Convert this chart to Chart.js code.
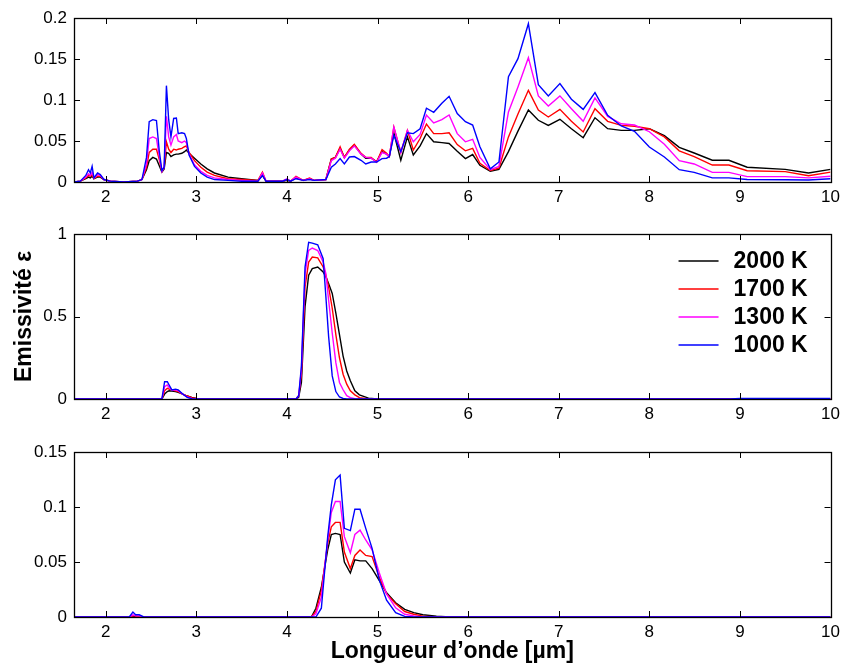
<!DOCTYPE html>
<html><head><meta charset="utf-8">
<script src="https://cdn.jsdelivr.net/npm/chart.js@4.4.1/dist/chart.umd.min.js"></script>
<style>
html,body{margin:0;padding:0;background:#fff;}
#wrap{position:relative;width:845px;height:668px;background:#fff;}
canvas{position:absolute;left:0;}
</style></head><body>
<div id="wrap">
<canvas id="p1" width="845" height="210" style="top:0px"></canvas>
<canvas id="p2" width="845" height="217" style="top:210px"></canvas>
<canvas id="p3" width="845" height="241" style="top:427px"></canvas>
</div>
<script>
// ---------- DATA ----------
const seriesLabels = ['2000 K', '1700 K', '1300 K', '1000 K'];
const seriesColors = ['#000000', '#ff0000', '#ff00ff', '#0000ff'];
const xTicks = [2, 3, 4, 5, 6, 7, 8, 9, 10];
const yTicksTop = [0, 0.05, 0.1, 0.15, 0.2];
const yTicksMid = [0, 0.5, 1];
const yTicksBot = [0, 0.05, 0.1, 0.15];

// Top panel
const topX = [1.65,1.72,1.78,1.81,1.83,1.85,1.87,1.91,1.94,1.98,2.05,2.2,2.35,2.4,2.45,2.48,2.52,2.56,2.59,2.62,2.645,2.67,2.695,2.72,2.75,2.78,2.80,2.84,2.87,2.89,2.92,2.98,3.05,3.12,3.2,3.35,3.5,3.68,3.73,3.77,3.95,4.0,4.04,4.1,4.18,4.25,4.3,4.43,4.49,4.535,4.587,4.634,4.69,4.744,4.818,4.87,4.93,4.99,5.05,5.1,5.13,5.18,5.257,5.33,5.395,5.47,5.54,5.62,5.71,5.79,5.88,5.97,6.05,6.13,6.245,6.34,6.445,6.55,6.665,6.775,6.885,7.013,7.14,7.27,7.40,7.54,7.69,7.836,8.0,8.166,8.33,8.495,8.695,8.878,9.08,9.5,9.757,10.0];
const top2000 = [0,0.001,0.004,0.006,0.005,0.007,0.004,0.006,0.006,0.003,0.001,0,0.001,0.003,0.015,0.026,0.030,0.028,0.020,0.012,0.016,0.036,0.035,0.031,0.033,0.034,0.034,0.035,0.037,0.039,0.035,0.029,0.022,0.016,0.011,0.006,0.004,0.002,0.008,0.001,0.001,0.002,0.001,0.005,0.002,0.004,0.002,0.003,0.028,0.030,0.041,0.030,0.039,0.045,0.034,0.029,0.029,0.025,0.037,0.034,0.031,0.060,0.0265,0.055,0.033,0.044,0.059,0.049,0.048,0.047,0.0374,0.0285,0.0335,0.0204,0.013,0.0155,0.037,0.062,0.0878,0.0753,0.069,0.0765,0.065,0.054,0.0784,0.065,0.063,0.063,0.065,0.0565,0.0423,0.0354,0.0265,0.0265,0.018,0.0154,0.011,0.0154];
const top1700 = [0,0.001,0.005,0.008,0.007,0.009,0.004,0.007,0.007,0.003,0.001,0,0.001,0.003,0.018,0.036,0.040,0.040,0.028,0.013,0.018,0.049,0.040,0.036,0.040,0.039,0.040,0.041,0.043,0.044,0.036,0.026,0.018,0.012,0.008,0.004,0.003,0.002,0.012,0.001,0.001,0.003,0.001,0.007,0.002,0.005,0.002,0.003,0.028,0.030,0.043,0.030,0.040,0.046,0.035,0.030,0.030,0.0244,0.0395,0.035,0.031,0.067,0.036,0.063,0.039,0.053,0.0707,0.059,0.059,0.060,0.0456,0.038,0.041,0.0228,0.014,0.017,0.055,0.083,0.1118,0.0878,0.0793,0.0886,0.074,0.061,0.0894,0.074,0.069,0.068,0.065,0.055,0.038,0.031,0.0207,0.0207,0.0138,0.0127,0.0077,0.012];
const top1300 = [0,0.001,0.006,0.010,0.008,0.012,0.005,0.009,0.008,0.003,0.001,0,0.001,0.003,0.022,0.053,0.055,0.053,0.032,0.013,0.018,0.080,0.055,0.045,0.055,0.058,0.050,0.048,0.050,0.048,0.034,0.021,0.013,0.008,0.005,0.003,0.002,0.001,0.011,0.001,0.001,0.004,0.001,0.006,0.002,0.004,0.002,0.003,0.026,0.029,0.040,0.029,0.038,0.044,0.034,0.030,0.029,0.024,0.036,0.034,0.031,0.067,0.036,0.063,0.049,0.058,0.0817,0.072,0.076,0.0817,0.059,0.049,0.052,0.030,0.015,0.019,0.0854,0.116,0.1516,0.105,0.0927,0.105,0.0894,0.074,0.1025,0.080,0.071,0.0695,0.0613,0.046,0.026,0.022,0.0117,0.0117,0.0065,0.0065,0.005,0.007];
const top1000 = [0,0.001,0.008,0.015,0.011,0.019,0.005,0.011,0.009,0.003,0.001,0,0.001,0.003,0.030,0.0735,0.076,0.075,0.039,0.014,0.018,0.1175,0.076,0.055,0.0775,0.078,0.059,0.060,0.059,0.053,0.033,0.019,0.011,0.006,0.003,0.002,0.001,0.001,0.008,0.001,0.001,0.003,0.001,0.004,0.002,0.003,0.002,0.003,0.018,0.022,0.0285,0.022,0.0305,0.031,0.0265,0.022,0.0244,0.0244,0.0285,0.029,0.031,0.057,0.037,0.060,0.059,0.065,0.090,0.085,0.096,0.1045,0.0834,0.0735,0.0695,0.043,0.016,0.0244,0.1284,0.1504,0.193,0.1187,0.105,0.12,0.101,0.0886,0.109,0.0813,0.0683,0.0618,0.0427,0.0305,0.015,0.0117,0.005,0.005,0.003,0.0028,0.0025,0.004];

// Middle panel
const midX = [1.65,1.95,2.05,2.62,2.65,2.68,2.70,2.73,2.77,2.80,2.85,2.90,2.95,3.0,3.05,4.1,4.13,4.16,4.2,4.24,4.28,4.34,4.4,4.43,4.46,4.5,4.54,4.58,4.62,4.66,4.7,4.75,4.8,4.9,5.0,8.9,9.0,10];
const mid2000 = [0,0,0,0,0.03,0.045,0.05,0.048,0.045,0.04,0.03,0.018,0.01,0.004,0.001,0,0.01,0.1,0.56,0.75,0.79,0.8,0.77,0.74,0.7,0.64,0.52,0.39,0.26,0.17,0.11,0.05,0.025,0.005,0.001,0,0,0];
const mid1700 = [0,0,0,0,0.05,0.065,0.06,0.055,0.05,0.045,0.03,0.018,0.008,0.003,0.001,0,0.02,0.15,0.68,0.83,0.86,0.855,0.8,0.75,0.68,0.55,0.39,0.25,0.15,0.09,0.05,0.025,0.008,0.001,0,0,0.001,0.001];
const mid1300 = [0,0.001,0,0,0.075,0.085,0.07,0.055,0.055,0.05,0.03,0.012,0.003,0.001,0,0,0.02,0.18,0.76,0.9,0.915,0.9,0.83,0.76,0.6,0.4,0.22,0.1,0.056,0.02,0.008,0.002,0,0,0,0,0.002,0.002];
const mid1000 = [0,0,0,0,0.105,0.105,0.085,0.055,0.06,0.055,0.03,0.01,0.002,0,0,0,0.02,0.2,0.8,0.95,0.945,0.935,0.85,0.62,0.38,0.14,0.045,0.012,0.003,0,0,0,0,0,0,0,0.004,0.004];

// Bottom panel
const botX = [1.65,2.26,2.3,2.33,2.37,2.42,4.27,4.32,4.38,4.45,4.49,4.535,4.587,4.634,4.7,4.75,4.807,4.87,4.94,5.02,5.1,5.2,5.3,5.4,5.5,5.65,5.8,10];
const bot2000 = [0,0,0.001,0,0,0,0,0.008,0.027,0.061,0.075,0.076,0.075,0.05,0.04,0.052,0.051,0.051,0.044,0.033,0.022,0.013,0.007,0.004,0.002,0.0008,0,0];
const bot1700 = [0,0,0.001,0.001,0,0,0,0.005,0.024,0.067,0.082,0.086,0.086,0.059,0.044,0.056,0.061,0.056,0.055,0.036,0.021,0.012,0.005,0.0025,0.0008,0,0,0];
const bot1300 = [0,0,0.002,0.001,0.001,0,0,0.003,0.018,0.07,0.095,0.105,0.105,0.073,0.0584,0.075,0.079,0.07,0.061,0.04,0.021,0.0084,0.0025,0.001,0,0,0,0];
const bot1000 = [0,0,0.0045,0.002,0.002,0,0,0,0.008,0.073,0.102,0.1247,0.129,0.0806,0.0786,0.098,0.098,0.0806,0.0624,0.0335,0.0152,0.004,0.0006,0,0,0,0,0];

// ---------- RENDERING ----------
const FONT = "'Liberation Sans', Arial, Helvetica, sans-serif";

function makeDatasets(xs, arrs) {
  return arrs.map((arr, i) => ({
    label: seriesLabels[i],
    data: xs.map((x, j) => ({x: x, y: arr[j]})),
    borderColor: seriesColors[i],
    backgroundColor: seriesColors[i],
    borderWidth: 1.4,
    pointRadius: 0,
    tension: 0,
    fill: false,
    order: 4 - i
  }));
}

const boxTicks = {
  id: 'boxTicks',
  afterDatasetsDraw(chart) {
    const {ctx, chartArea: a, scales: {x, y}} = chart;
    ctx.save();
    ctx.strokeStyle = '#000';
    ctx.lineWidth = 1;
    const L = 6;
    ctx.beginPath();
    x.ticks.forEach(t => {
      const px = Math.round(x.getPixelForValue(t.value)) + 0.5;
      ctx.moveTo(px, a.bottom); ctx.lineTo(px, a.bottom - L);
      ctx.moveTo(px, a.top); ctx.lineTo(px, a.top + L);
    });
    y.ticks.forEach(t => {
      const py = Math.round(y.getPixelForValue(t.value)) + 0.5;
      ctx.moveTo(a.left, py); ctx.lineTo(a.left + L, py);
      ctx.moveTo(a.right, py); ctx.lineTo(a.right - L, py);
    });
    ctx.stroke();
    ctx.lineWidth = 1.3;
    ctx.strokeRect(Math.round(a.left) + 0.5, Math.round(a.top) + 0.5, Math.round(a.right - a.left), Math.round(a.bottom - a.top));
    ctx.restore();
  }
};

const legendPlugin = {
  id: 'insideLegend',
  afterDraw(chart) {
    if (!chart.options.plugins.insideLegend || !chart.options.plugins.insideLegend.show) return;
    const {ctx, chartArea: a} = chart;
    ctx.save();
    ctx.font = "bold 23px " + FONT;
    ctx.textBaseline = 'middle';
    ctx.textAlign = 'left';
    chart.data.datasets.forEach((ds, i) => {
      const yy = a.top + 27 + i * 28;
      ctx.strokeStyle = ds.borderColor;
      ctx.lineWidth = 1.4;
      ctx.beginPath();
      ctx.moveTo(a.right - 152, yy); ctx.lineTo(a.right - 112, yy);
      ctx.stroke();
      ctx.fillStyle = '#000';
      ctx.fillText(ds.label, a.right - 97, yy + 1);
    });
    ctx.restore();
  }
};

function makeChart(id, xs, arrs, yTicks, yMax, opts) {
  const ctx = document.getElementById(id).getContext('2d');
  return new Chart(ctx, {
    type: 'line',
    data: {datasets: makeDatasets(xs, arrs)},
    options: {
      responsive: false,
      animation: false,
      events: [],
      layout: {padding: {left: 0, right: 11, top: opts.padTop, bottom: 0}},
      plugins: {legend: {display: false}, tooltip: {enabled: false}, insideLegend: {show: !!opts.legend}},
      scales: {
        x: {
          type: 'linear', min: 1.65, max: 10,
          grid: {display: false, drawTicks: false, tickLength: 0},
          border: {display: false},
          afterBuildTicks: s => { s.ticks = xTicks.map(v => ({value: v})); },
          afterFit: s => { s.height = opts.xHeight; },
          ticks: {color: '#000', font: {family: FONT, size: 17}, padding: 5, maxRotation: 0, autoSkip: false,
                  callback: v => String(v)},
          title: opts.xTitle ? {display: true, text: opts.xTitle, color: '#000',
                  font: {family: FONT, size: 23, weight: 'bold'}, padding: {top: 0, bottom: 3}} : {display: false}
        },
        y: {
          type: 'linear', min: 0, max: yMax,
          grid: {display: false, drawTicks: false, tickLength: 0},
          border: {display: false},
          afterBuildTicks: s => { s.ticks = yTicks.map(v => ({value: v})); },
          afterFit: s => { s.width = 74; },
          ticks: {color: '#000', font: {family: FONT, size: 17}, padding: 7, autoSkip: false,
                  callback: v => String(v)},
          title: opts.yTitle ? {display: true, text: opts.yTitle, color: '#000',
                  font: {family: FONT, size: 23, weight: 'bold'}, padding: {top: 11, bottom: 0}} : {display: false}
        }
      }
    },
    plugins: [boxTicks, legendPlugin]
  });
}

makeChart('p1', topX, [top2000, top1700, top1300, top1000], yTicksTop, 0.2, {padTop: 18, xHeight: 28});
makeChart('p2', midX, [mid2000, mid1700, mid1300, mid1000], yTicksMid, 1, {padTop: 24, xHeight: 28, legend: true, yTitle: 'Emissivité ε'});
makeChart('p3', botX, [bot2000, bot1700, bot1300, bot1000], yTicksBot, 0.15, {padTop: 25, xHeight: 51, xTitle: 'Longueur d’onde [µm]'});
</script>
</body></html>
